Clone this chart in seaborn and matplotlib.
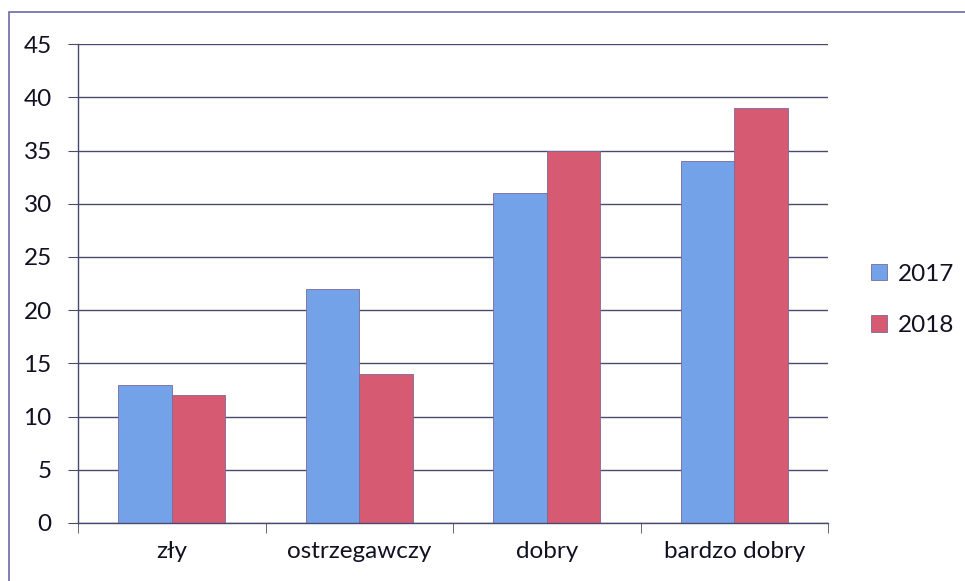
import numpy as np
import pandas as pd
import matplotlib
matplotlib.use("Agg")
import matplotlib.pyplot as plt
from matplotlib.patches import Rectangle
import seaborn as sns

categories = ["zły", "ostrzegawczy", "dobry", "bardzo dobry"]
years = ["2017", "2018"]
values_2017 = [13, 22, 31, 34]
values_2018 = [12, 14, 35, 39]
y_ticks = [0, 5, 10, 15, 20, 25, 30, 35, 40, 45]

df = pd.DataFrame({
    "kategoria": categories * 2,
    "rok": [years[0]] * 4 + [years[1]] * 4,
    "wartosc": values_2017 + values_2018,
})

sns.set_style("white")
plt.rcParams["font.family"] = ["Lato", "DejaVu Sans"]

fig = plt.figure(figsize=(9.65, 5.81), dpi=100)
ax = fig.add_axes([0.081, 0.1, 0.777, 0.824])

palette = {"2017": "#74a2e8", "2018": "#d65b72"}
sns.barplot(data=df, x="kategoria", y="wartosc", hue="rok", palette=palette,
            width=0.57, saturation=1, edgecolor="#7a6a9a", linewidth=0.6,
            ax=ax, legend=True)

ax.set_ylim(0, 45)
ax.set_xlim(-0.5, 3.5)
ax.set_yticks(y_ticks)
ax.yaxis.grid(True, color="#4a4a6e", linewidth=1.0)
ax.set_axisbelow(True)
ax.set_xlabel("")
ax.set_ylabel("")

for side in ["top", "right"]:
    ax.spines[side].set_visible(False)
for side in ["left", "bottom"]:
    ax.spines[side].set_color("#4a4a6e")
    ax.spines[side].set_linewidth(1.0)

txt = "#111122"
ax.tick_params(axis="y", length=7, color="#4a4a6e", labelsize=17.5,
               labelcolor=txt, pad=12, left=True)
ax.tick_params(axis="x", which="major", length=0, labelsize=17.5,
               labelcolor=txt, pad=13)
ax.set_xticks(np.arange(-0.5, 4.0, 1.0), minor=True)
ax.tick_params(axis="x", which="minor", length=7, color="#4a4a6e", bottom=True)

handles, labels = ax.get_legend_handles_labels()
ax.get_legend().remove()
fig.legend(handles, labels, loc="center left", bbox_to_anchor=(0.903, 0.484),
           frameon=False, fontsize=17.5, handlelength=0.65, handleheight=0.65,
           handletextpad=0.45, labelspacing=1.25, labelcolor=txt,
           borderaxespad=0, borderpad=0)

fig.patches.append(Rectangle((0.009, -0.01), 1.0, 0.989, transform=fig.transFigure,
                             fill=False, edgecolor="#6a6aa8", linewidth=1.2))

fig.savefig("out.png", dpi=100)
